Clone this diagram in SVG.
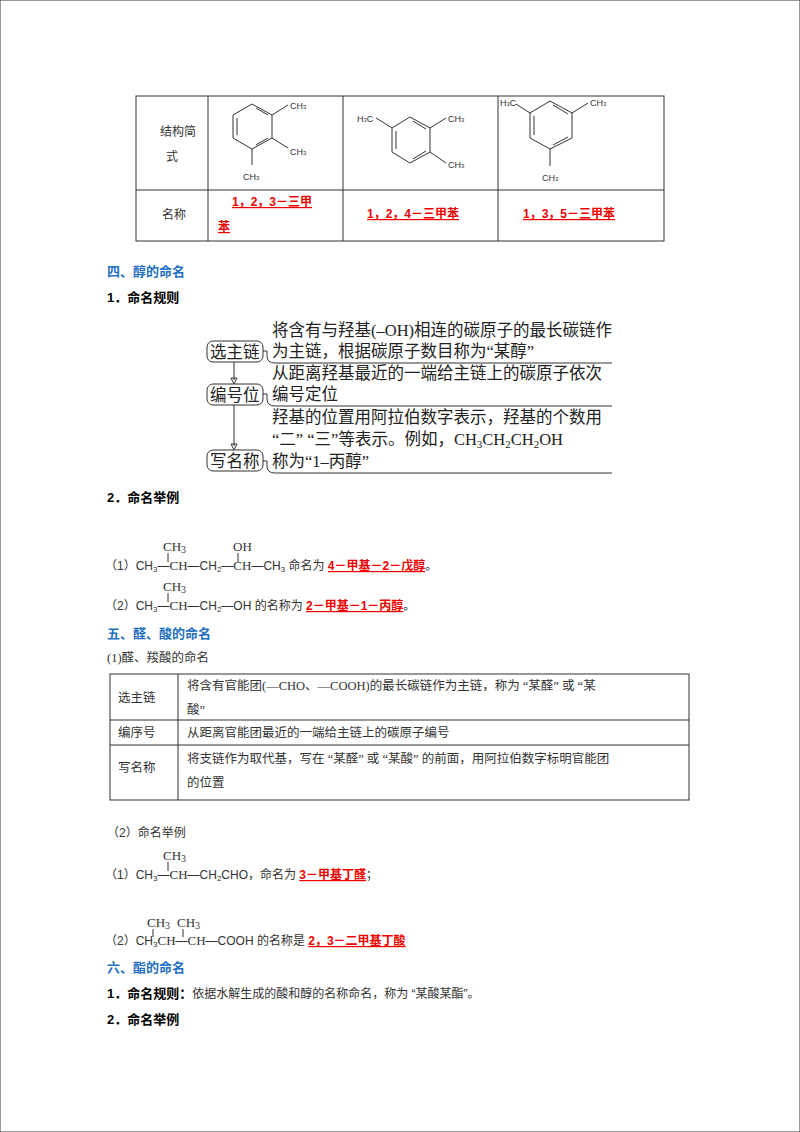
<svg xmlns="http://www.w3.org/2000/svg" width="800" height="1132" viewBox="0 0 800 1132">
<style>
text{font-family:"Liberation Sans","Noto Sans CJK SC",sans-serif;font-size:12px;fill:#333}
.s{font-size:9px;fill:#333}
.r{fill:#e00;font-weight:bold;text-decoration:underline}
.h{fill:#1f6fc0;font-weight:bold;font-size:13px}
.b{font-weight:bold;fill:#000;font-size:13px}
.f{font-family:"Liberation Serif","Noto Sans CJK SC",serif;font-size:16.5px;fill:#222}
.t{font-family:"Liberation Serif","Noto Sans CJK SC",serif;font-size:12.5px;fill:#333}
.m{font-family:"Liberation Serif",serif;font-size:13px}
line,path,rect,polygon{stroke:#333;fill:none}
</style>
<rect width="800" height="1132" fill="#fff" stroke="none"/>
<g id="table1" stroke-width="1">
<rect x="136" y="96" width="528" height="145"/>
<line x1="208" y1="96" x2="208" y2="241"/><line x1="343" y1="96" x2="343" y2="241"/><line x1="498" y1="96" x2="498" y2="241"/>
<line x1="136" y1="190" x2="664" y2="190"/>
<text x="160" y="136">结构简</text><text x="166" y="161">式</text>
<text x="162" y="219">名称</text>
<text class="r" x="232" y="206">1，2，3－三甲</text><text class="r" x="218" y="231">苯</text>
<text class="r" x="367" y="218">1，2，4－三甲苯</text>
<text class="r" x="523" y="218">1，3，5－三甲苯</text>
</g>
<g id="ring1">
<polygon points="233,115 252,104 272,115 272,138 252,149 233,138"/>
<line x1="237" y1="118" x2="237" y2="135"/><line x1="256" y1="108" x2="268" y2="115"/><line x1="256" y1="145" x2="268" y2="138"/>
<line x1="272" y1="115" x2="288" y2="105"/><line x1="272" y1="138" x2="288" y2="148"/><line x1="252" y1="149" x2="252" y2="165"/>
<text class="s" x="290" y="109">CH<tspan font-size="6">3</tspan></text><text class="s" x="290" y="155">CH<tspan font-size="6">3</tspan></text><text class="s" x="243" y="180">CH<tspan font-size="6">3</tspan></text>
</g>
<g id="ring2">
<polygon points="410,117 430,128 430,152 410,163 392,152 392,128"/>
<line x1="413" y1="121" x2="426" y2="129"/><line x1="396" y1="131" x2="396" y2="149"/><line x1="413" y1="159" x2="426" y2="151"/>
<line x1="392" y1="128" x2="376" y2="118"/><line x1="430" y1="128" x2="446" y2="118"/><line x1="430" y1="152" x2="446" y2="163"/>
<text class="s" x="357" y="122">H<tspan font-size="6">3</tspan>C</text><text class="s" x="448" y="122">CH<tspan font-size="6">3</tspan></text><text class="s" x="448" y="168">CH<tspan font-size="6">3</tspan></text>
</g>
<g id="ring3">
<polygon points="550,101 572,113 572,138 550,149 530,138 530,113"/>
<line x1="553" y1="105" x2="568" y2="114"/><line x1="534" y1="116" x2="534" y2="135"/><line x1="553" y1="145" x2="568" y2="137"/>
<line x1="530" y1="113" x2="516" y2="104"/><line x1="572" y1="113" x2="588" y2="103"/><line x1="550" y1="149" x2="550" y2="166"/>
<text class="s" x="500" y="106">H<tspan font-size="6">3</tspan>C</text><text class="s" x="590" y="106">CH<tspan font-size="6">3</tspan></text><text class="s" x="542" y="181">CH<tspan font-size="6">3</tspan></text>
</g>
<text class="h" x="107" y="276">四、醇的命名</text>
<text class="b" x="107" y="302">1．命名规则</text>
<g id="flow">
<rect x="207" y="341" width="56" height="21" rx="6"/><text class="f" x="210" y="358">选主链</text>
<rect x="207" y="384" width="56" height="21" rx="6"/><text class="f" x="210" y="401">编号位</text>
<rect x="207" y="450" width="56" height="21" rx="6"/><text class="f" x="210" y="467">写名称</text>
<path d="M263,351 h4 v5 M263,394 h4 v5 M263,461 h4 v5"/>
<path d="M267,356 q0,7 8,7 H612 M267,399 q0,7 8,7 H612 M267,466 q0,7 8,7 H612"/>
<text class="f" x="272" y="336">将含有与羟基(–OH)相连的碳原子的最长碳链作</text>
<text class="f" x="272" y="357">为主链，根据碳原子数目称为“某醇”</text>
<text class="f" x="272" y="379">从距离羟基最近的一端给主链上的碳原子依次</text>
<text class="f" x="272" y="400">编号定位</text>
<text class="f" x="272" y="423">羟基的位置用阿拉伯数字表示，羟基的个数用</text>
<text class="f" x="272" y="445"> “二” “三”等表示。例如，CH<tspan font-size="11" dy="3">3</tspan><tspan dy="-3">CH</tspan><tspan font-size="11" dy="3">2</tspan><tspan dy="-3">CH</tspan><tspan font-size="11" dy="3">2</tspan><tspan dy="-3">OH</tspan></text>
<text class="f" x="272" y="467">称为“1–丙醇”</text>
</g>
<g id="connectors">
<line x1="234" y1="362" x2="234" y2="380"/><polygon points="231,378 237,378 234,384" fill="#333"/>
<line x1="234" y1="405" x2="234" y2="446"/><polygon points="231,444 237,444 234,450" fill="#333"/>
</g>
<text class="b" x="107" y="502">2．命名举例</text>
<g id="ex1">
<text class="m" x="163" y="551">CH<tspan font-size="10" dy="2">3</tspan></text><text class="m" x="233" y="551">OH</text>
<line x1="168" y1="553" x2="168" y2="562"/><line x1="238" y1="553" x2="238" y2="562"/>
<text x="105" y="570">（1）CH<tspan font-size="8" dy="2">3</tspan><tspan dy="-2">—</tspan><tspan class="m">CH</tspan>—CH<tspan font-size="8" dy="2">2</tspan><tspan dy="-2">—</tspan><tspan class="m">CH</tspan>—CH<tspan font-size="8" dy="2">3</tspan><tspan dy="-2"> 命名为 </tspan><tspan class="r">4－甲基－2－戊醇</tspan>。</text>
<text class="m" x="163" y="591">CH<tspan font-size="10" dy="2">3</tspan></text>
<line x1="168" y1="593" x2="168" y2="602"/>
<text x="105" y="610">（2）CH<tspan font-size="8" dy="2">3</tspan><tspan dy="-2">—</tspan><tspan class="m">CH</tspan>—CH<tspan font-size="8" dy="2">2</tspan><tspan dy="-2">—OH 的名称为 </tspan><tspan class="r">2－甲基－1－丙醇</tspan>。</text>
</g>
<text class="h" x="107" y="638">五、醛、酸的命名</text>
<text class="t" x="107" y="662">(1)醛、羧酸的命名</text>
<g id="table2">
<rect x="110" y="674" width="579" height="126"/>
<line x1="178" y1="674" x2="178" y2="800"/><line x1="110" y1="720" x2="689" y2="720"/><line x1="110" y1="745" x2="689" y2="745"/>
<text class="t" x="118" y="702">选主链</text><text class="t" x="187" y="690">将含有官能团(—CHO、—COOH)的最长碳链作为主链，称为 “某醛” 或 “某</text><text class="t" x="187" y="714">酸”</text>
<text class="t" x="118" y="737">编序号</text><text class="t" x="187" y="737">从距离官能团最近的一端给主链上的碳原子编号</text>
<text class="t" x="118" y="772">写名称</text><text class="t" x="187" y="763">将支链作为取代基，写在 “某醛” 或 “某酸” 的前面，用阿拉伯数字标明官能团</text><text class="t" x="187" y="787">的位置</text>
</g>
<text x="107" y="837">（2）命名举例</text>
<g id="ex2">
<text class="m" x="163" y="860">CH<tspan font-size="10" dy="2">3</tspan></text>
<line x1="168" y1="862" x2="168" y2="871"/>
<text x="105" y="879">（1）CH<tspan font-size="8" dy="2">3</tspan><tspan dy="-2">—</tspan><tspan class="m">CH</tspan>—CH<tspan font-size="8" dy="2">2</tspan><tspan dy="-2">CHO，命名为 </tspan><tspan class="r">3－甲基丁醛</tspan>；</text>
<text class="m" x="147" y="927">CH<tspan font-size="10" dy="2">3</tspan></text><text class="m" x="177" y="927">CH<tspan font-size="10" dy="2">3</tspan></text>
<line x1="153" y1="929" x2="153" y2="937"/><line x1="183" y1="929" x2="183" y2="937"/>
<text x="105" y="945">（2）CH<tspan font-size="8" dy="2">3</tspan><tspan dy="-2" class="m">CH</tspan><tspan>—</tspan><tspan class="m">CH</tspan>—COOH 的名称是 <tspan class="r">2，3－二甲基丁酸</tspan></text>
</g>
<text class="h" x="107" y="972">六、酯的命名</text>
<text x="107" y="998"><tspan class="b">1．命名规则：</tspan>依据水解生成的酸和醇的名称命名，称为 “某酸某酯”。</text>
<text class="b" x="107" y="1024">2．命名举例</text>
</svg>
